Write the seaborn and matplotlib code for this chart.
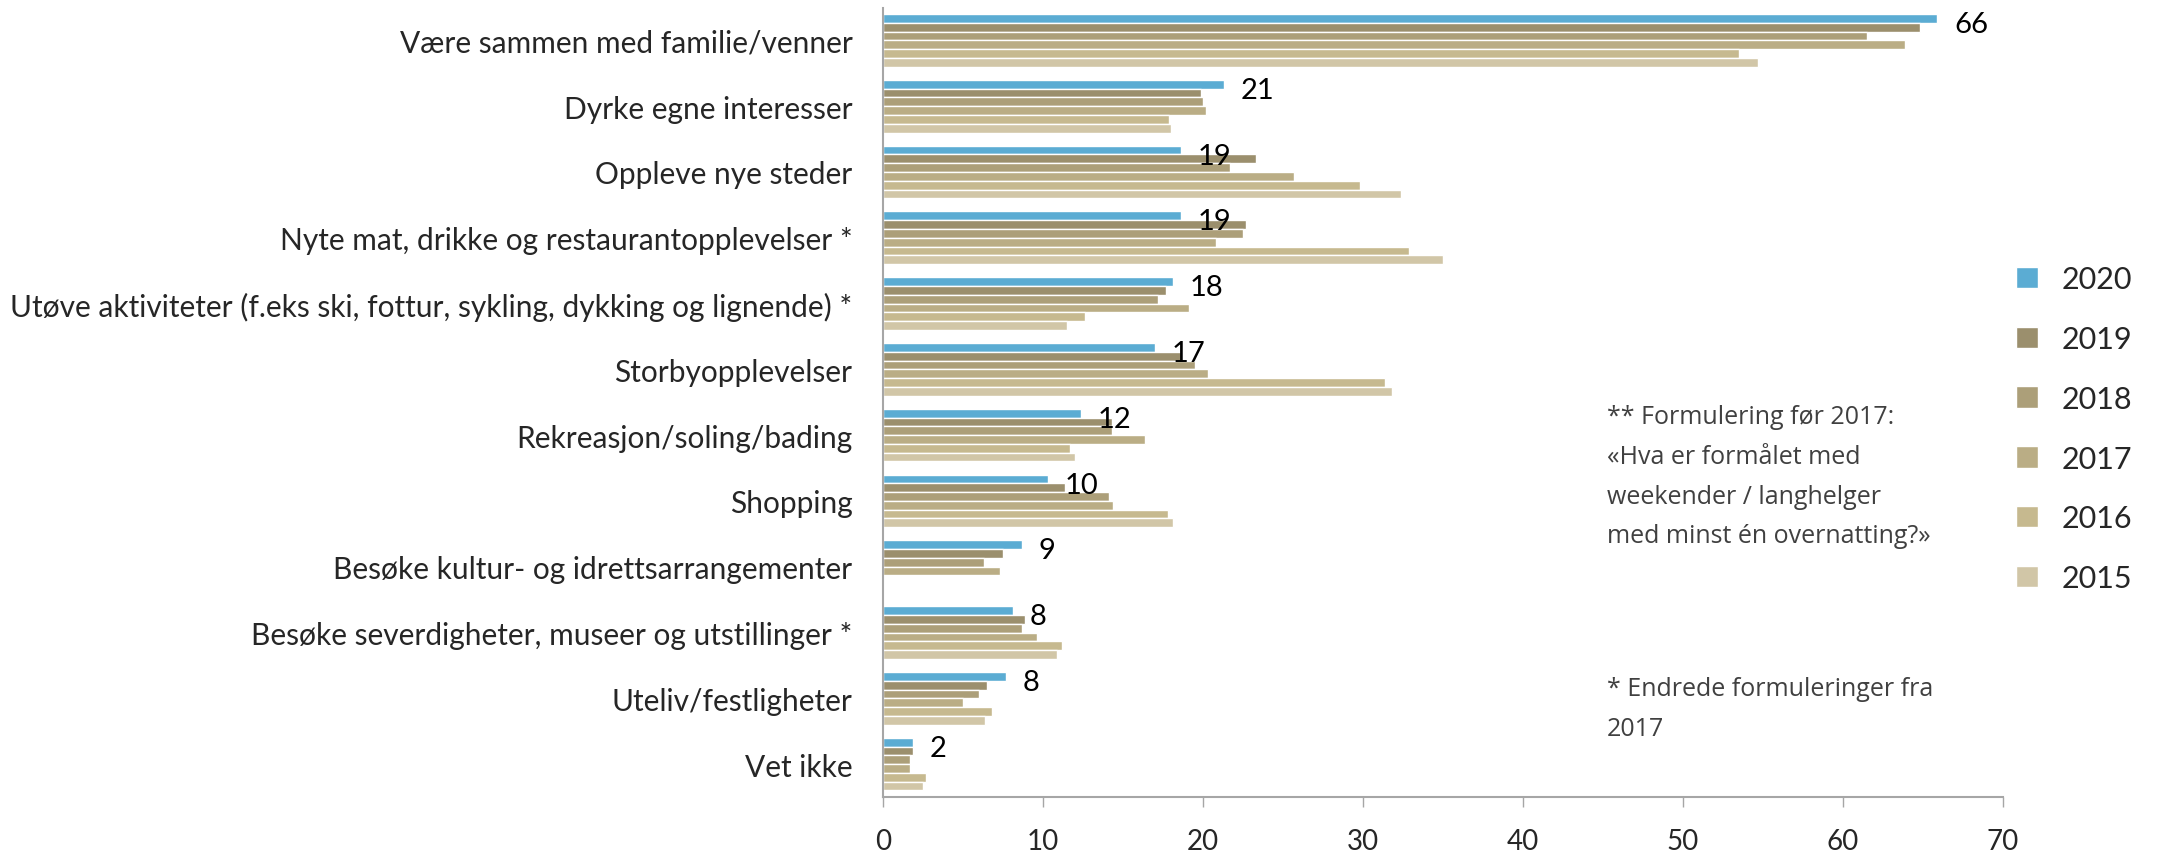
import pandas as pd
import seaborn as sns
import matplotlib.pyplot as plt
import numpy as np

# Kategorier (fra toppen og ned)
kategorier = [
    "Være sammen med familie/venner",
    "Dyrke egne interesser",
    "Oppleve nye steder",
    "Nyte mat, drikke og restaurantopplevelser *",
    "Utøve aktiviteter (f.eks ski, fottur, sykling, dykking og lignende) *",
    "Storbyopplevelser",
    "Rekreasjon/soling/bading",
    "Shopping",
    "Besøke kultur- og idrettsarrangementer",
    "Besøke severdigheter, museer og utstillinger *",
    "Uteliv/festligheter",
    "Vet ikke",
]

aar = ["2020", "2019", "2018", "2017", "2016", "2015"]

# Prosent per år (lest av figuren)
v2020 = [65.9, 21.3, 18.6, 18.6, 18.1, 17.0, 12.4, 10.3, 8.7, 8.1, 7.7, 1.9]
v2019 = [64.8, 19.9, 23.3, 22.7, 17.7, 18.6, 14.3, 11.4, 7.5, 8.9, 6.5, 1.9]
v2018 = [61.5, 20.0, 21.7, 22.5, 17.2, 19.5, 14.3, 14.1, 6.3, 8.7, 6.0, 1.7]
v2017 = [63.9, 20.2, 25.7, 20.8, 19.1, 20.3, 16.4, 14.4, 7.3, 9.6, 5.0, 1.7]
v2016 = [53.5, 17.9, 29.8, 32.9, 12.6, 31.4, 11.7, 17.8, np.nan, 11.2, 6.8, 2.7]
v2015 = [54.7, 18.0, 32.4, 35.0, 11.5, 31.8, 12.0, 18.1, np.nan, 10.9, 6.4, 2.5]

# Etiketter for 2020
etiketter_2020 = ["66", "21", "19", "19", "18", "17", "12", "10", "9", "8", "8", "2"]

farger = ["#5BACD3", "#9B8F6D", "#AC9F79", "#BAAD85", "#C6B98F", "#D1C6A7"]

# Lang tabell for seaborn
serier = [v2020, v2019, v2018, v2017, v2016, v2015]
rader = []
for a, verdier in zip(aar, serier):
    for k, v in zip(kategorier, verdier):
        rader.append({"kategori": k, "år": a, "prosent": v})
df = pd.DataFrame(rader)

sns.set_style("white")
plt.rcParams["font.family"] = ["Lato", "DejaVu Sans"]

fig = plt.figure(figsize=(21.76, 8.53), dpi=100)
ax = fig.add_axes([0.4058, 0.0645, 0.5147, 0.9255])

sns.barplot(data=df, y="kategori", x="prosent", hue="år", hue_order=aar,
            order=kategorier, palette=farger, orient="h", width=0.8,
            saturation=1, edgecolor="white", linewidth=1, errorbar=None, ax=ax)

# Dataetiketter kun for 2020, litt under midten av 2020-stolpen
tekster = ax.bar_label(ax.containers[0], labels=etiketter_2020, padding=12,
                       fontsize=21, color="black")
for t in tekster:
    t.xyann = (12, -4)

ax.set_xlim(0, 70)
ax.set_xticks(range(0, 71, 10))
ax.set_xlabel("")
ax.set_ylabel("")
ax.tick_params(axis="x", length=7, width=1, color="#A6A6A6", pad=15, labelsize=20,
               direction="out", bottom=True)
ax.tick_params(axis="y", length=0, pad=22, labelsize=21.5)
for s in ["top", "right"]:
    ax.spines[s].set_visible(False)
for s in ["left", "bottom"]:
    ax.spines[s].set_color("#A6A6A6")
    ax.spines[s].set_linewidth(1.5)

# Legend
h, l = ax.get_legend_handles_labels()
ax.legend(h, l, loc="upper left", bbox_to_anchor=(2001 / 2176, 1 - 251 / 853),
          bbox_transform=fig.transFigure, frameon=False, fontsize=22,
          handlelength=0.7, handleheight=0.7, handletextpad=0.8,
          labelspacing=1.04, borderpad=0)

# Merknader
fig.text(1607 / 2176, 1 - 405 / 853,
         "** Formulering før 2017:\n«Hva er formålet med\nweekender / langhelger\nmed minst én overnatting?»",
         fontsize=18, color="#404040", va="top", ha="left", linespacing=1.78,
         family=["Open Sans", "DejaVu Sans"])
fig.text(1607 / 2176, 1 - 677 / 853,
         "* Endrede formuleringer fra\n2017",
         fontsize=18, color="#404040", va="top", ha="left", linespacing=1.78,
         family=["Open Sans", "DejaVu Sans"])

fig.savefig("out.png", dpi=100)
